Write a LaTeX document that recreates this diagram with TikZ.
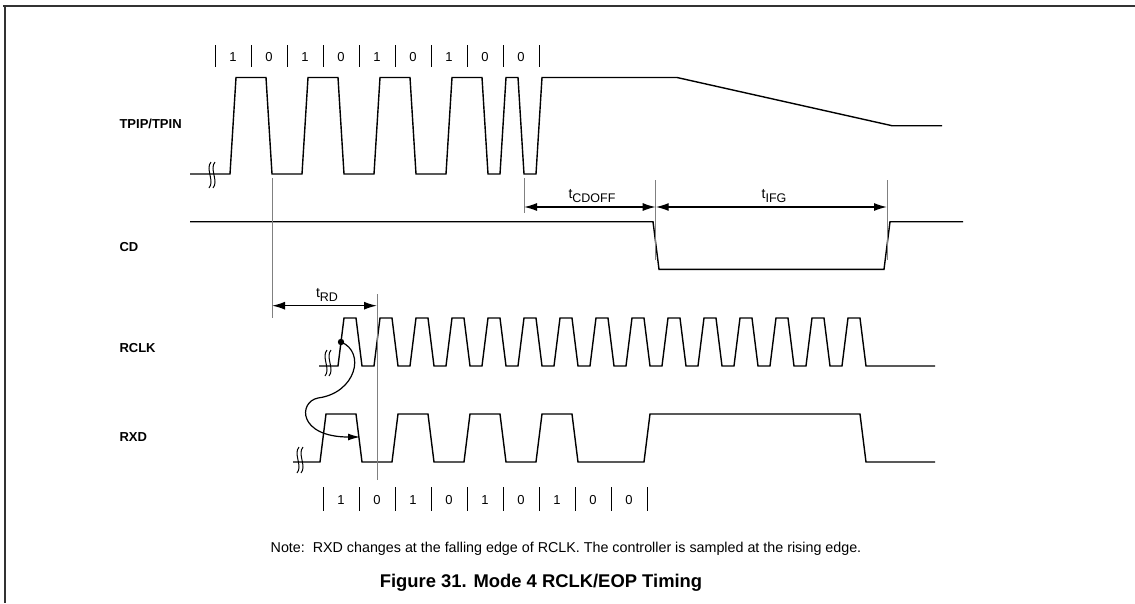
\documentclass[tikz,border=0pt]{standalone}
\usepackage{fontspec}
\setmainfont{Liberation Sans}
\usetikzlibrary{arrows.meta}

\tikzset{
  wave/.style={line width=1.4pt},
  marker/.style={gray, line width=1pt},
  dim/.style={line width=1.4pt, {Latex[length=13pt,width=8pt]}-{Latex[length=13pt,width=8pt]}},
  signame/.style={anchor=west, font=\fontsize{13}{15}\selectfont\bfseries},
  bitlabel/.style={font=\fontsize{13}{15}\selectfont},
  timelabel/.style={font=\fontsize{14}{16}\selectfont},
}
\newcommand{\wavebreak}[2]{%
  \draw[line width=1pt] (#1+1,#2-13) .. controls (#1-5,#2-6) and (#1+5,#2+6) .. (#1-1,#2+13);
  \draw[line width=1pt] (#1+5,#2-13) .. controls (#1-1,#2-6) and (#1+9,#2+6) .. (#1+3,#2+13);}
\newcommand{\tsub}[1]{t\raisebox{-3.5pt}{\fontsize{12.5}{14}\selectfont #1}}

\begin{document}
\begin{tikzpicture}[x=1pt,y=-1pt]
\useasboundingbox (0,0) rectangle (1135,603);
\draw[line width=2pt, black!80] (3,6) -- (1135,6);
\draw[line width=1.5pt, black!80] (5,6) -- (5,603);

\node[signame] (tpipname) at (116,124) {TPIP/TPIN};
\node[signame] (cdname) at (116,247) {CD};
\node[signame] (rclkname) at (116,348) {RCLK};
\node[signame] (rxdname) at (116,437) {RXD};

\draw[wave] (190,174) foreach \x in {230,302,374,446} { -- (\x,174) -- (\x+6,77.5) -- (\x+36,77.5) -- (\x+42,174) }
  -- (500,174) -- (506,77.5) -- (518,77.5) -- (524,174) -- (536,174) -- (542,77.5)
  -- (677,77.5) -- (892,125.7) -- (942,125.7);
\wavebreak{210}{175}

\draw[wave] (190,221.7) -- (653,221.7) -- (659,269.3) -- (884,269.3) -- (890,221.7) -- (963,221.7);

\draw[wave] (319,366) -- (338,366) -- (344,318) -- (356,318) -- (362,366)
  foreach \x in {374,410,...,842} { -- (\x,366) -- (\x+6,318) -- (\x+18,318) -- (\x+24,366) } -- (935,366);
\wavebreak{326}{363}

\draw[wave] (293,462) foreach \x in {320,392,464,536} { -- (\x,462) -- (\x+6,414) -- (\x+36,414) -- (\x+42,462) }
  -- (644,462) -- (650,414) -- (860,414) -- (866,462) -- (935,462);
\wavebreak{298}{460}

\foreach \k in {0,...,9} {
  \draw[line width=1pt] (215+36*\k,45) -- (215+36*\k,67);
  \draw[line width=1pt] (323+36*\k,487) -- (323+36*\k,511);
}
\foreach \b [count=\k from 0] in {1,0,1,0,1,0,1,0,0} {
  \node[bitlabel] (topbit\k) at (233+36*\k,57) {\b};
  \node[bitlabel] (botbit\k) at (341+36*\k,500) {\b};
}

\coordinate (rdL) at (272,305.7);
\coordinate (rdR) at (377,305.7);
\coordinate (cdoffL) at (524,207);
\coordinate (cdoffR) at (655.7,207);
\coordinate (ifgR) at (887,207);

\draw[marker] (272,178) -- (272,318);
\draw[marker] (377,294) -- (377,480);
\draw[marker] (524,178) -- (524,213);
\draw[marker] (655.7,180) -- (655.7,260);
\draw[marker] (887,180) -- (887,260);

\draw[dim] (cdoffL) -- (cdoffR);
\draw[dim] (cdoffR) -- (ifgR);
\draw[dim] (rdL) -- (rdR);
\node[timelabel] (cdofflabel) at (592,196) {\tsub{CDOFF}};
\node[timelabel] (ifglabel) at (774,196) {\tsub{IFG}};
\node[timelabel] (rdlabel) at (327,295) {\tsub{RD}};

\fill (341,342) circle (3.2);
\coordinate (sample) at (341,342);
\coordinate (change) at (360,437);
\draw[line width=1.2pt, -{Latex[length=12pt,width=7pt]}] (sample) .. controls (366,352) and (356,393) .. (318,398)
  .. controls (298,402) and (298,437) .. (change);

\node[font=\fontsize{14.3}{16}\selectfont] (note) at (566,549) {Note:\ \ RXD changes at the falling edge of RCLK. The controller is sampled at the rising edge.};
\node[font=\fontsize{18.4}{20}\selectfont\bfseries] (caption) at (541,583) {Figure 31. Mode 4 RCLK/EOP Timing};
\end{tikzpicture}
\end{document}
